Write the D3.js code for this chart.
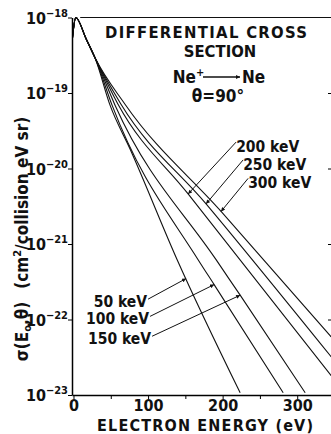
<!DOCTYPE html>
<html>
<head>
<meta charset="utf-8">
<script src="https://cdn.jsdelivr.net/npm/d3@7"></script>
<style>
body { margin: 0; background: #fff; }
svg text { font-family: "Liberation Sans Narrow", "DejaVu Sans Condensed", "Arial Narrow", sans-serif; font-weight: bold; fill: #111; }
</style>
</head>
<body>
<script>
var width = 331;
var height = 434;

// x ticks (eV) and y decades (cm2/collision eV sr)
var xTicks = [0, 50, 100, 150, 200, 250, 300];
var xLabels = [0, 100, 200, 300];
var yDecades = [-18, -19, -20, -21, -22, -23];

// shared rise and peak near 0 eV
var peakEnergy = [-2, 0, 3, 17, 29];
var peakSigma = [4.6e-19, 7.1e-19, 1.0e-18, 5.2e-19, 2.9e-19];

// tails for each projectile energy
var energy50 = [49, 76, 139, 223.5];
var sigma50 = [6.9e-20, 1.8e-20, 6.2e-22, 1.07e-23];
var energy100 = [51.7, 167.1, 188.6, 281.2];
var sigma100 = [6.9e-20, 6.2e-22, 2.9e-22, 1.07e-23];
var energy150 = [55.7, 191.2, 223.5, 310.7];
var sigma150 = [6.9e-20, 6.2e-22, 2.1e-22, 1.07e-23];
var energy200 = [59.7, 153.7, 345.6];
var sigma200 = [7.1e-20, 4.6e-21, 1.8e-23];
var energy250 = [63.7, 177.8, 345.6];
var sigma250 = [7.1e-20, 3.4e-21, 3.2e-23];
var energy300 = [69.1, 197.9, 345.6];
var sigma300 = [7.1e-20, 2.7e-21, 5.9e-23];

var projectile = ["50 keV", "100 keV", "150 keV", "200 keV", "250 keV", "300 keV"];
var tailEnergies = [energy50, energy100, energy150, energy200, energy250, energy300];
var tailSigmas = [sigma50, sigma100, sigma150, sigma200, sigma250, sigma300];

// label leader lines: start of line (E, sigma) and E where arrow hits curve
var labelEnergy = [100.0, 102.7, 105.4, 218.1, 227.5, 234.2];
var labelSigma = [1.86e-22, 1.1e-22, 6.0e-23, 2.24e-20, 1.3e-20, 7.4e-21];
var arrowEnergy = [151, 188.6, 223.5, 153.7, 177.8, 197.9];

var svg = d3.select("body").append("svg")
    .attr("width", width)
    .attr("height", height);

var x = d3.scaleLinear().domain([-2, 348]).range([72, 333]);
var y = d3.scaleLog().domain([1e-23, 1e-18]).range([395, 17.5]);

var defs = svg.append("defs");
defs.append("clipPath").attr("id", "plot-clip")
    .append("rect")
    .attr("x", 72).attr("y", 5)
    .attr("width", 262).attr("height", 390);
defs.append("marker")
    .attr("id", "arrow")
    .attr("viewBox", "0 0 10 10")
    .attr("refX", 10).attr("refY", 5)
    .attr("markerUnits", "userSpaceOnUse")
    .attr("markerWidth", 5).attr("markerHeight", 4)
    .attr("orient", "auto")
    .append("path")
    .attr("d", "M0,0L10,5L0,10z")
    .attr("fill", "#111");

// build the curves
var series = projectile.map(function (name, i) {
    var pts = [];
    for (var j = 0; j < peakEnergy.length; j++) pts.push({e: peakEnergy[j], s: peakSigma[j]});
    for (var k = 0; k < tailEnergies[i].length; k++) pts.push({e: tailEnergies[i][k], s: tailSigmas[i][k]});
    return {name: name, points: pts};
});

var line = d3.line()
    .x(function (d) { return x(d.e); })
    .y(function (d) { return y(d.s); })
    .curve(d3.curveMonotoneX);

svg.append("g")
    .attr("clip-path", "url(#plot-clip)")
    .selectAll("path")
    .data(series)
    .enter().append("path")
    .attr("d", function (d) { return line(d.points); })
    .attr("fill", "none")
    .attr("stroke", "#111")
    .attr("stroke-width", 1.1);

// sigma on a curve at a given energy (log-linear between points)
function sigmaAt(pts, e) {
    for (var i = 1; i < pts.length; i++) {
        if (e <= pts[i].e) {
            var t = (e - pts[i - 1].e) / (pts[i].e - pts[i - 1].e);
            var l = Math.log10(pts[i - 1].s) + t * (Math.log10(pts[i].s) - Math.log10(pts[i - 1].s));
            return Math.pow(10, l);
        }
    }
    return pts[pts.length - 1].s;
}

// axes
var xAxis = d3.axisBottom(x)
    .tickValues(xTicks)
    .tickSize(4)
    .tickSizeOuter(0)
    .tickPadding(1)
    .tickFormat(function (d) { return xLabels.indexOf(d) >= 0 ? d : ""; });
var gx = svg.append("g").attr("transform", "translate(0," + y(1e-23) + ")").call(xAxis);
gx.select(".domain").attr("stroke-width", 1.5);
gx.selectAll("text").attr("font-size", 16).attr("fill", "#111").attr("font-family", null);

var yTickVals = yDecades.map(function (k) { return Math.pow(10, k); });
var yAxis = d3.axisLeft(y).tickValues(yTickVals).tickSize(4).tickSizeOuter(0).tickFormat("");
var gy = svg.append("g").attr("transform", "translate(" + x(-2) + ",0)").call(yAxis);
gy.select(".domain").attr("stroke-width", 1.5);

var yRight = d3.axisLeft(y).tickValues(yTickVals.slice(1, 5)).tickSize(5).tickSizeOuter(0).tickFormat("");
var gr = svg.append("g").attr("transform", "translate(" + x(348) + ",0)").call(yRight);
gr.select(".domain").attr("stroke", "none");

// top frame
svg.append("line")
    .attr("x1", x(9)).attr("x2", x(348))
    .attr("y1", y(1e-18)).attr("y2", y(1e-18))
    .attr("stroke", "#111").attr("stroke-width", 1.2);

// y tick labels 10^k
var yl = svg.append("g").selectAll("text")
    .data(yDecades)
    .enter().append("text")
    .attr("x", 68)
    .attr("y", function (d) { return y(Math.pow(10, d)) + 6; })
    .attr("text-anchor", "end")
    .attr("font-size", 16);
yl.append("tspan").text("10");
yl.append("tspan").attr("dy", -7).attr("font-size", 11).text(function (d) { return "\u2212" + (-d); });

// axis titles
svg.append("text")
    .attr("x", 205).attr("y", 431)
    .attr("text-anchor", "middle")
    .attr("font-size", 16)
    .attr("textLength", 216)
    .attr("lengthAdjust", "spacing")
    .text("ELECTRON ENERGY (eV)");

var yt = svg.append("text")
    .attr("transform", "translate(28,239) rotate(-90)")
    .attr("text-anchor", "middle")
    .attr("font-size", 17);
yt.append("tspan").text("\u03c3(E");
yt.append("tspan").attr("font-size", 11).attr("dy", 3).text("o");
yt.append("tspan").attr("dy", -3).text(",\u03b8)\u2002 (cm");
yt.append("tspan").attr("font-size", 11).attr("dy", -7).text("2");
yt.append("tspan").attr("dy", 7).text("/collision eV sr)");

// header
svg.append("text").attr("x", 206).attr("y", 38).attr("text-anchor", "middle")
    .attr("font-size", 16.5).attr("textLength", 202).attr("lengthAdjust", "spacing")
    .text("DIFFERENTIAL  CROSS");
svg.append("text").attr("x", 220).attr("y", 57).attr("text-anchor", "middle")
    .attr("font-size", 16.5).text("SECTION");
svg.append("text").attr("x", 196).attr("y", 83).attr("text-anchor", "end")
    .attr("font-size", 17).text("Ne");
svg.append("text").attr("x", 196).attr("y", 76).attr("font-size", 11).text("+");
svg.append("line")
    .attr("x1", 203).attr("x2", 240).attr("y1", 77).attr("y2", 77)
    .attr("stroke", "#111").attr("stroke-width", 1.3)
    .attr("marker-end", "url(#arrow)");
svg.append("text").attr("x", 242).attr("y", 83)
    .attr("font-size", 17).text("Ne");
svg.append("text").attr("x", 218).attr("y", 102).attr("text-anchor", "middle")
    .attr("font-size", 17).text("\u03b8=90\u00b0");

// curve labels with leader arrows
var ann = projectile.map(function (name, i) {
    return {
        name: name,
        right: i >= 3,
        x1: x(labelEnergy[i]), y1: y(labelSigma[i]),
        x2: x(arrowEnergy[i]), y2: y(sigmaAt(series[i].points, arrowEnergy[i]))
    };
});

svg.append("g").selectAll("line")
    .data(ann)
    .enter().append("line")
    .attr("x1", function (d) { return d.x1; })
    .attr("y1", function (d) { return d.y1; })
    .attr("x2", function (d) { return d.x2; })
    .attr("y2", function (d) { return d.y2; })
    .attr("stroke", "#111")
    .attr("stroke-width", 1)
    .attr("marker-end", "url(#arrow)");

svg.append("g").selectAll("text")
    .data(ann)
    .enter().append("text")
    .attr("x", function (d) { return d.right ? d.x1 : d.x1 - 1; })
    .attr("y", function (d) { return d.right ? d.y1 + 10 : d.y1 + 8; })
    .attr("text-anchor", function (d) { return d.right ? "start" : "end"; })
    .attr("font-size", 15.5)
    .text(function (d) { return d.name; });
</script>
</body>
</html>
